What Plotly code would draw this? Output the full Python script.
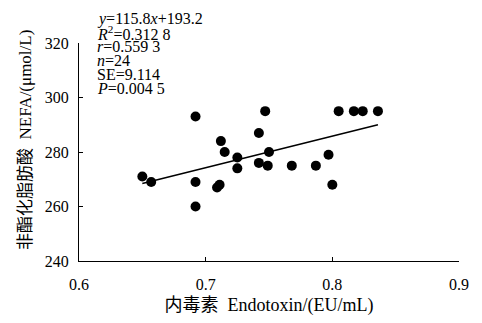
import plotly.graph_objects as go
import numpy as np

endotoxin = [0.650, 0.657, 0.692, 0.692, 0.692, 0.709, 0.711, 0.712, 0.715, 0.725, 0.725, 0.742,
             0.742, 0.747, 0.749, 0.750, 0.768, 0.787, 0.797, 0.800, 0.805, 0.817, 0.824, 0.836]
nefa = [271, 269, 293, 269, 260, 267, 268, 284, 280, 278, 274, 287,
        276, 295, 275, 280, 275, 275, 279, 268, 295, 295, 295, 295]
slope = 115.8
intercept = 193.2
stats_lines = ["<i>y</i>=115.8<i>x</i>+193.2", "<i>R</i><sup>2</sup>=0.312 8", "<i>r</i>=0.559 3",
               "<i>n</i>=24", "SE=9.114", "<i>P</i>=0.004 5"]
x_ticks = [0.6, 0.7, 0.8, 0.9]
y_ticks = [240, 260, 280, 300, 320]
x_title = "内毒素  Endotoxin/(EU/mL)"
y_title = "非酯化脂肪酸  NEFA/(μmol/L)"

serif = "Liberation Serif"
cjk = "Liberation Serif, Noto Sans CJK SC"

fig = go.Figure()
fig.add_trace(go.Scatter(x=endotoxin, y=nefa, mode="markers",
                         marker=dict(color="black", size=10), showlegend=False))
lx = np.array([min(endotoxin), max(endotoxin)])
fig.add_trace(go.Scatter(x=lx, y=slope * lx + intercept, mode="lines",
                         line=dict(color="black", width=1.5), showlegend=False))

L, R, T, B = 79, 23, 43, 62
W, H = 482, 323
ph = H - T - B
pw = W - L - R
for i, s in enumerate(stats_lines):
    py = 19 + i * 13.8
    fig.add_annotation(text=s, xref="paper", yref="paper", x=(95 - L) / pw, y=(H - B - py) / ph,
                       xanchor="left", yanchor="middle", showarrow=False,
                       font=dict(family=serif, size=16, color="black"))

fig.add_annotation(text=y_title, xref="paper", yref="paper", x=(25 - L) / pw, y=(H - B - 140) / ph,
                   xanchor="center", yanchor="middle", textangle=-90, showarrow=False,
                   font=dict(family=cjk, size=17, color="black"))

fig.update_layout(
    width=W, height=H, margin=dict(l=L, r=R, t=T, b=B),
    paper_bgcolor="white", plot_bgcolor="white",
    font=dict(family=serif, color="black"),
    xaxis=dict(range=[0.6, 0.9], tickvals=x_ticks, ticktext=[str(v) for v in x_ticks],
               showgrid=False, zeroline=False, showline=True, linecolor="black", linewidth=1.2,
               ticks="inside", ticklen=4, tickcolor="black", tickfont=dict(size=16, family=serif),
               ticklabelstandoff=9,
               title=dict(text=x_title, font=dict(size=18, family=cjk), standoff=6)),
    yaxis=dict(range=[240, 320], tickvals=y_ticks, showgrid=False, zeroline=False,
               showline=True, linecolor="black", linewidth=1.2,
               ticks="inside", ticklen=4, tickcolor="black", tickfont=dict(size=16, family=serif),
               ticklabelstandoff=6),
)
fig.write_html("out.html")
